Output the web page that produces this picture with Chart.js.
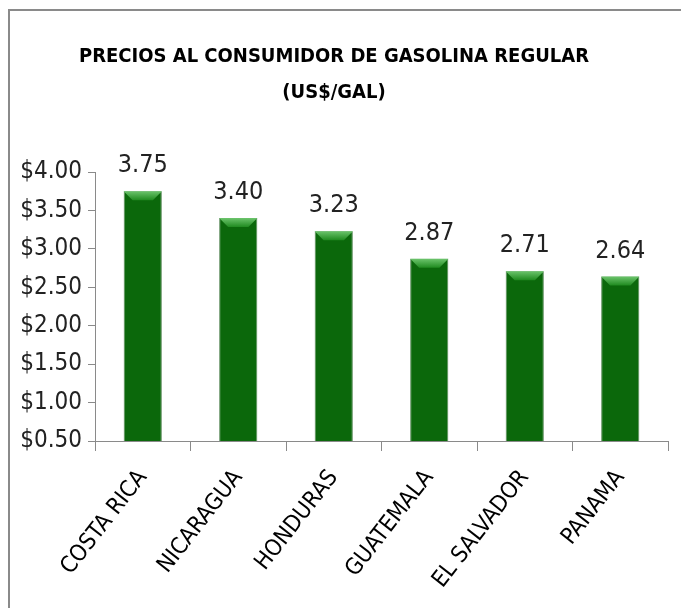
<!DOCTYPE html>
<html>
<head>
<meta charset="utf-8">
<script src="https://cdn.jsdelivr.net/npm/chart.js@4.4.1/dist/chart.umd.min.js"></script>
<style>
  html, body { margin: 0; padding: 0; background: #fff; overflow: hidden; }
  #frame {
    position: absolute; left: 8px; top: 9px; width: 720px; height: 640px;
    border: 2px solid #8a8a8a; box-sizing: border-box;
  }
  #wrap { position: absolute; left: 0; top: 0; width: 681px; height: 608px; }
</style>
</head>
<body>
<div id="frame"></div>
<div id="wrap"><canvas id="chart" width="681" height="608"></canvas></div>
<script>
// datos
const countries = ['COSTA RICA', 'NICARAGUA', 'HONDURAS', 'GUATEMALA', 'EL SALVADOR', 'PANAMA'];
const prices = [3.75, 3.40, 3.23, 2.87, 2.71, 2.64];
const titleLines = ['PRECIOS AL CONSUMIDOR DE GASOLINA REGULAR', '(US$/GAL)'];

const fontFamily = "'Liberation Sans Narrow', 'DejaVu Sans Condensed', sans-serif";

// bisel claro en la parte superior de cada barra
const bevelPlugin = {
    id: 'bevel',
    afterDatasetsDraw(chart) {
        const ctx = chart.ctx;
        chart.getDatasetMeta(0).data.forEach(bar => {
            const half = bar.width / 2;
            const h = 9;
            const g = ctx.createLinearGradient(0, bar.y, 0, bar.y + h);
            g.addColorStop(0, '#6cc46c');
            g.addColorStop(1, '#1f8a1f');
            ctx.save();
            ctx.fillStyle = g;
            ctx.beginPath();
            ctx.moveTo(bar.x - half, bar.y);
            ctx.lineTo(bar.x + half, bar.y);
            ctx.lineTo(bar.x + half - h, bar.y + h);
            ctx.lineTo(bar.x - half + h, bar.y + h);
            ctx.closePath();
            ctx.fill();
            ctx.restore();
        });
    }
};

// etiquetas de valor encima de las barras
const valueLabels = {
    id: 'valueLabels',
    afterDatasetsDraw(chart) {
        const ctx = chart.ctx;
        ctx.save();
        ctx.font = '25px ' + fontFamily;
        ctx.fillStyle = '#222';
        ctx.textAlign = 'center';
        ctx.textBaseline = 'alphabetic';
        chart.getDatasetMeta(0).data.forEach((bar, i) => {
            ctx.fillText(prices[i].toFixed(2), bar.x, bar.y - 19);
        });
        ctx.restore();
    }
};

const ctx = document.getElementById('chart').getContext('2d');

new Chart(ctx, {
    type: 'bar',
    data: {
        labels: countries,
        datasets: [{
            data: prices,
            backgroundColor: (c) => {
                const el = c.element;
                if (!el || el.width === undefined) return '#0b680b';
                const g = c.chart.ctx.createLinearGradient(el.x - el.width / 2, 0, el.x + el.width / 2, 0);
                g.addColorStop(0, '#0a5c0a');
                g.addColorStop(0.15, '#0b6a0b');
                g.addColorStop(0.85, '#0b6a0b');
                g.addColorStop(1, '#0a5c0a');
                return g;
            },
            borderColor: '#5a8a5a',
            borderWidth: 1,
            barPercentage: 0.4,
            categoryPercentage: 1.0
        }]
    },
    options: {
        responsive: false,
        animation: false,
        layout: { padding: { left: 0, right: 13, top: 0, bottom: 0 } },
        plugins: {
            legend: { display: false },
            tooltip: { enabled: false },
            title: {
                display: true,
                text: titleLines,
                color: '#000',
                font: { family: fontFamily, size: 20, weight: 'bold', lineHeight: 1.8 },
                padding: { top: 39, bottom: 61 }
            }
        },
        scales: {
            x: {
                grid: { drawOnChartArea: false, color: '#8a8a8a', tickLength: 10, offset: true },
                border: { color: '#8a8a8a' },
                ticks: {
                    color: '#000',
                    font: { family: fontFamily, size: 23 },
                    minRotation: 52,
                    maxRotation: 52,
                    padding: 14
                },
                afterFit: (scale) => { scale.height = 167; }
            },
            y: {
                min: 0.5,
                max: 4.0,
                grid: { drawOnChartArea: false, color: '#8a8a8a', tickLength: 7 },
                border: { color: '#8a8a8a' },
                ticks: {
                    stepSize: 0.5,
                    color: '#222',
                    font: { family: fontFamily, size: 24 },
                    padding: 6,
                    callback: (v) => '$' + Number(v).toFixed(2)
                },
                afterFit: (scale) => { scale.width = 95; }
            }
        }
    },
    plugins: [bevelPlugin, valueLabels]
});
</script>
</body>
</html>
